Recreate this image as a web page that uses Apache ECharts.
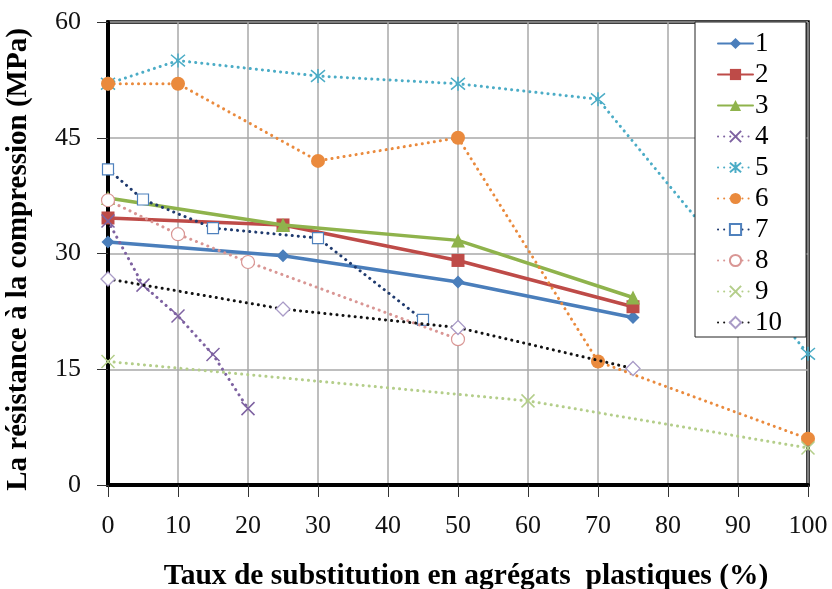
<!DOCTYPE html>
<html><head><meta charset="utf-8">
<script src="https://cdn.jsdelivr.net/npm/echarts@6/dist/echarts.min.js"></script>
<style>html,body{margin:0;padding:0;background:#fff}#c{width:832px;height:589px}</style>
</head><body><div id="c"></div>
<script>
// ---- data ----
const seriesNames = ['1','2','3','4','5','6','7','8','9','10'];
const x1 = [0, 25, 50, 75];          const y1 = [31.5, 29.7, 26.3, 21.7];
const x2 = [0, 25, 50, 75];          const y2 = [34.6, 33.7, 29.1, 23.1];
const x3 = [0, 25, 50, 75];          const y3 = [37.2, 33.7, 31.7, 24.3];
const x4 = [0, 5, 10, 15, 20];       const y4 = [34.2, 25.9, 21.9, 16.9, 9.9];
const x5 = [0, 10, 30, 50, 70, 100]; const y5 = [52, 55, 53, 52, 50, 17];
const x6 = [0, 10, 30, 50, 70, 100]; const y6 = [52, 52, 42, 45, 16, 6];
const x7 = [0, 5, 15, 30, 45];       const y7 = [40.9, 37, 33.3, 32, 21.4];
const x8 = [0, 10, 20, 50];          const y8 = [36.9, 32.5, 28.9, 18.9];
const x9 = [0, 60, 100];             const y9 = [16, 10.9, 4.8];
const x10 = [0, 25, 50, 75];         const y10 = [26.7, 22.8, 20.4, 15.1];
const xTicks = [0,10,20,30,40,50,60,70,80,90,100];
const yTicks = [0,15,30,45,60];

const xs = [x1,x2,x3,x4,x5,x6,x7,x8,x9,x10];
const ys = [y1,y2,y3,y4,y5,y6,y7,y8,y9,y10];

const X_PATH = 'path://M0,0L10,10M10,0L0,10';
const AST_PATH = 'path://M0,0L10,10M10,0L0,10M5,-1L5,11';
const dots = [0.1, 6];

const styles = [
  {line:'#4a7ebb', w:3.5, type:'solid', symbol:'diamond', size:13, fill:'#4a7ebb', border:'#4a7ebb', bw:0},
  {line:'#be4b48', w:3.5, type:'solid', symbol:'rect', size:13, fill:'#be4b48', border:'#be4b48', bw:0},
  {line:'#8fb34c', w:3.5, type:'solid', symbol:'triangle', size:14, fill:'#8fb34c', border:'#8fb34c', bw:0},
  {line:'#7e62a1', w:3, type:dots, symbol:X_PATH, size:13, fill:'none', border:'#7e62a1', bw:1.5},
  {line:'#4bacc6', w:3, type:dots, symbol:AST_PATH, size:14, fill:'none', border:'#4bacc6', bw:1.5},
  {line:'#ea8a3d', w:3, type:dots, symbol:'circle', size:14, fill:'#ea8a3d', border:'#ea8a3d', bw:0},
  {line:'#1f3a6e', w:3, type:dots, symbol:'rect', size:11, fill:'#ffffff', border:'#4f81bd', bw:1.2},
  {line:'#d99694', w:3, type:dots, symbol:'circle', size:13, fill:'#ffffff', border:'#d99694', bw:1.2},
  {line:'#b4ce8a', w:3, type:dots, symbol:X_PATH, size:13, fill:'none', border:'#b4ce8a', bw:1.5},
  {line:'#111111', w:3, type:dots, symbol:'diamond', size:14, fill:'#ffffff', border:'#a99bc7', bw:1.3}
];

const series = seriesNames.map((n, i) => {
  const s = styles[i];
  return {
    name: n, type: 'line',
    data: xs[i].map((x, k) => [x, ys[i][k]]),
    symbol: s.symbol, symbolSize: s.size,
    lineStyle: {color: s.line, width: s.w, type: s.type, cap: 'round'},
    itemStyle: {color: s.fill === 'none' ? 'rgba(0,0,0,0)' : s.fill, borderColor: s.border, borderWidth: s.bw},
    color: s.line,
    z: 3 + i,
    animation: false
  };
});

const chart = echarts.init(document.getElementById('c'), null, {renderer: 'canvas'});
chart.setOption({
  animation: false,
  backgroundColor: '#fff',
  grid: {left: 108, right: 24, top: 22, bottom: 104, show: true, outerBoundsMode: 'none', containLabel: false,
    borderColor: '#000', borderWidth: 3.5, backgroundColor: 'transparent'},
  xAxis: {
    type: 'value', min: 0, max: 100, interval: 10,
    axisLine: {show: true, lineStyle: {color: '#000', width: 4}},
    axisTick: {show: true, length: 12, lineStyle: {color: '#333', width: 1}},
    axisLabel: {fontFamily: 'Liberation Serif', fontSize: 26, color: '#111', margin: 28,
      formatter: v => xTicks.includes(v) ? String(v) : ''},
    splitLine: {show: true, lineStyle: {color: '#a8a8a8', width: 1.5}},
    name: 'Taux de substitution en agrégats  plastiques (%)',
    nameLocation: 'middle', nameGap: 76,
    nameTextStyle: {fontFamily: 'Liberation Serif', fontWeight: 'bold', fontSize: 29.5, color: '#000', padding: [0, 0, 0, 16]}
  },
  yAxis: {
    type: 'value', min: 0, max: 60, interval: 15,
    axisLine: {show: true, lineStyle: {color: '#000', width: 4}},
    axisTick: {show: true, length: 11, lineStyle: {color: '#333', width: 1}},
    axisLabel: {fontFamily: 'Liberation Serif', fontSize: 26, color: '#111', margin: 27,
      formatter: v => yTicks.includes(v) ? String(v) : ''},
    splitLine: {show: true, lineStyle: {color: '#a8a8a8', width: 1.5}},
    name: 'La résistance à la compression (MPa)',
    nameLocation: 'middle', nameGap: 75,
    nameTextStyle: {fontFamily: 'Liberation Serif', fontWeight: 'bold', fontSize: 29, color: '#000', padding: [0, 12, 0, 0]}
  },
  legend: {
    orient: 'vertical', left: 695, top: 22,
    data: seriesNames,
    padding: [8, 24, 1, 22],
    itemWidth: 35, itemHeight: 14, itemGap: 4,
    backgroundColor: '#fff', borderColor: '#222', borderWidth: 1,
    textStyle: {fontFamily: 'Liberation Serif', fontSize: 27, color: '#000', padding: [0, 0, 0, -3]},
    z: 20
  },
  series: series
});
</script>
</body></html>
